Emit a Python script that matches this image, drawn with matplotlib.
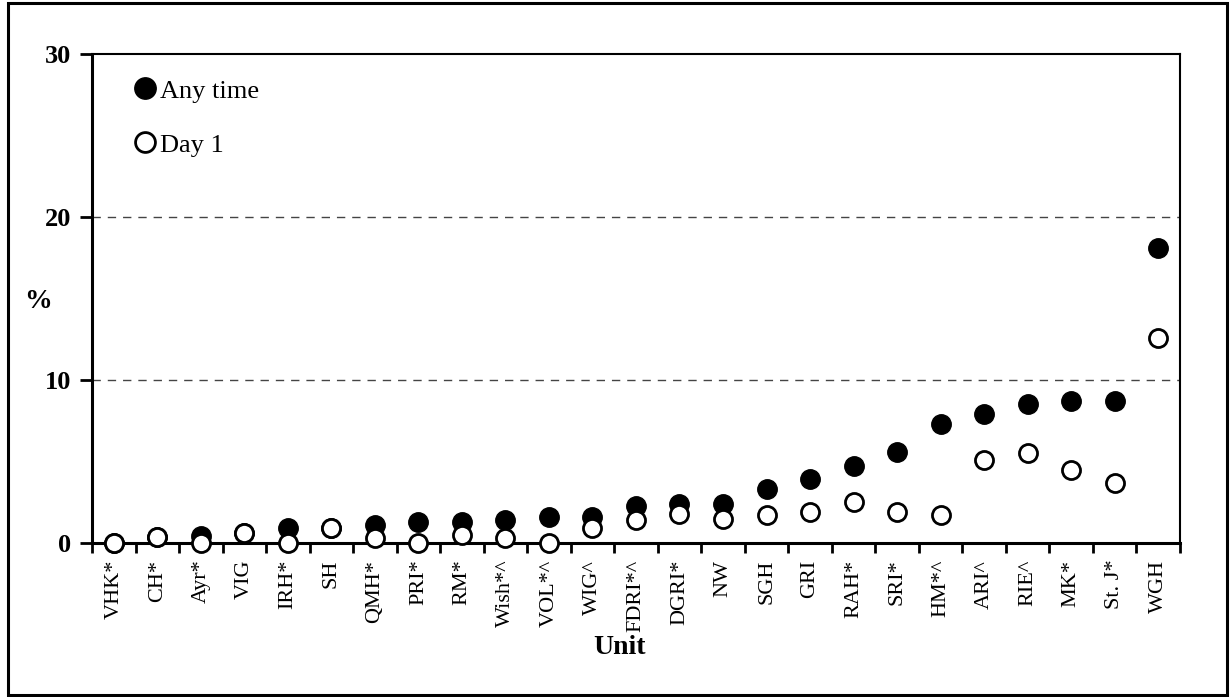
import matplotlib.pyplot as plt
from matplotlib.patches import Rectangle

units = ["VHK*", "CH*", "Ayr*", "VIG", "IRH*", "SH", "QMH*", "PRI*", "RM*",
         "Wish*^", "VOL*^", "WIG^", "FDRI*^", "DGRI*", "NW", "SGH", "GRI",
         "RAH*", "SRI*", "HM*^", "ARI^", "RIE^", "MK*", "St. J*", "WGH"]
any_time = [0.0, 0.4, 0.45, 0.6, 0.9, 0.9, 1.1, 1.3, 1.3, 1.4, 1.6, 1.6,
            2.3, 2.4, 2.4, 3.3, 3.9, 4.7, 5.6, 7.3, 7.9, 8.5, 8.7, 8.7, 18.1]
day1 = [0.0, 0.4, 0.0, 0.6, 0.0, 0.9, 0.3, 0.0, 0.5, 0.3, 0.0, 0.9,
        1.4, 1.8, 1.5, 1.7, 1.9, 2.5, 1.9, 1.7, 5.1, 5.5, 4.5, 3.7, 12.6]

plt.rcParams['font.family'] = ['Liberation Serif', 'DejaVu Serif']

fig = plt.figure(figsize=(12.3, 6.97), dpi=100)
ax = fig.add_axes([0.0748, 0.2209, 0.8845, 0.7016])

x = list(range(len(units)))
ax.plot(x, any_time, 'o', color='black', markersize=14, clip_on=False,
        zorder=3, label='Any time')
ax.plot(x, day1, 'o', markerfacecolor='white', markeredgecolor='black',
        markeredgewidth=2, markersize=13, clip_on=False, zorder=4,
        label='Day 1')

ax.set_xlim(-0.5, len(units) - 0.5)
ax.set_ylim(0, 30)
ax.set_yticks([0, 10, 20, 30])
ax.set_yticklabels(['0', '10', '20', '30'], fontsize=19, fontweight='bold')
ax.set_xticks(x)
ax.set_xticklabels(units, rotation=90, fontsize=16)
ax.set_xticks([i - 0.5 for i in range(len(units) + 1)], minor=True)
ax.tick_params(axis='x', which='major', length=0, pad=12)
ax.tick_params(axis='x', which='minor', length=7, width=2, direction='out')
ax.tick_params(axis='y', length=9, width=2, direction='out', pad=6)

for yv in [10, 20]:
    ax.axhline(yv, color='#444444', linestyle=(0, (6, 5)), linewidth=1, zorder=1)

ax.spines['left'].set_linewidth(2.2)
ax.spines['bottom'].set_linewidth(2.2)
ax.spines['top'].set_linewidth(1.5)
ax.spines['right'].set_linewidth(1.5)

ax.set_xlabel('Unit', fontsize=20, fontweight='bold')
ax.xaxis.set_label_coords(0.485, -0.188)
fig.text(0.031, 0.567, '%', fontsize=20, fontweight='bold', ha='center', va='center')

ax.legend(loc='upper left', bbox_to_anchor=(0.012, 0.997), frameon=False,
          fontsize=19, handletextpad=0.0, labelspacing=1.15, handlelength=1.2,
          markerscale=1.1)

fig.patches.append(Rectangle((8 / 1230, 2 / 697), 1219 / 1230, 692 / 697,
                             transform=fig.transFigure, fill=False,
                             edgecolor='black', linewidth=2.2))

fig.savefig('out.png', dpi=100)
